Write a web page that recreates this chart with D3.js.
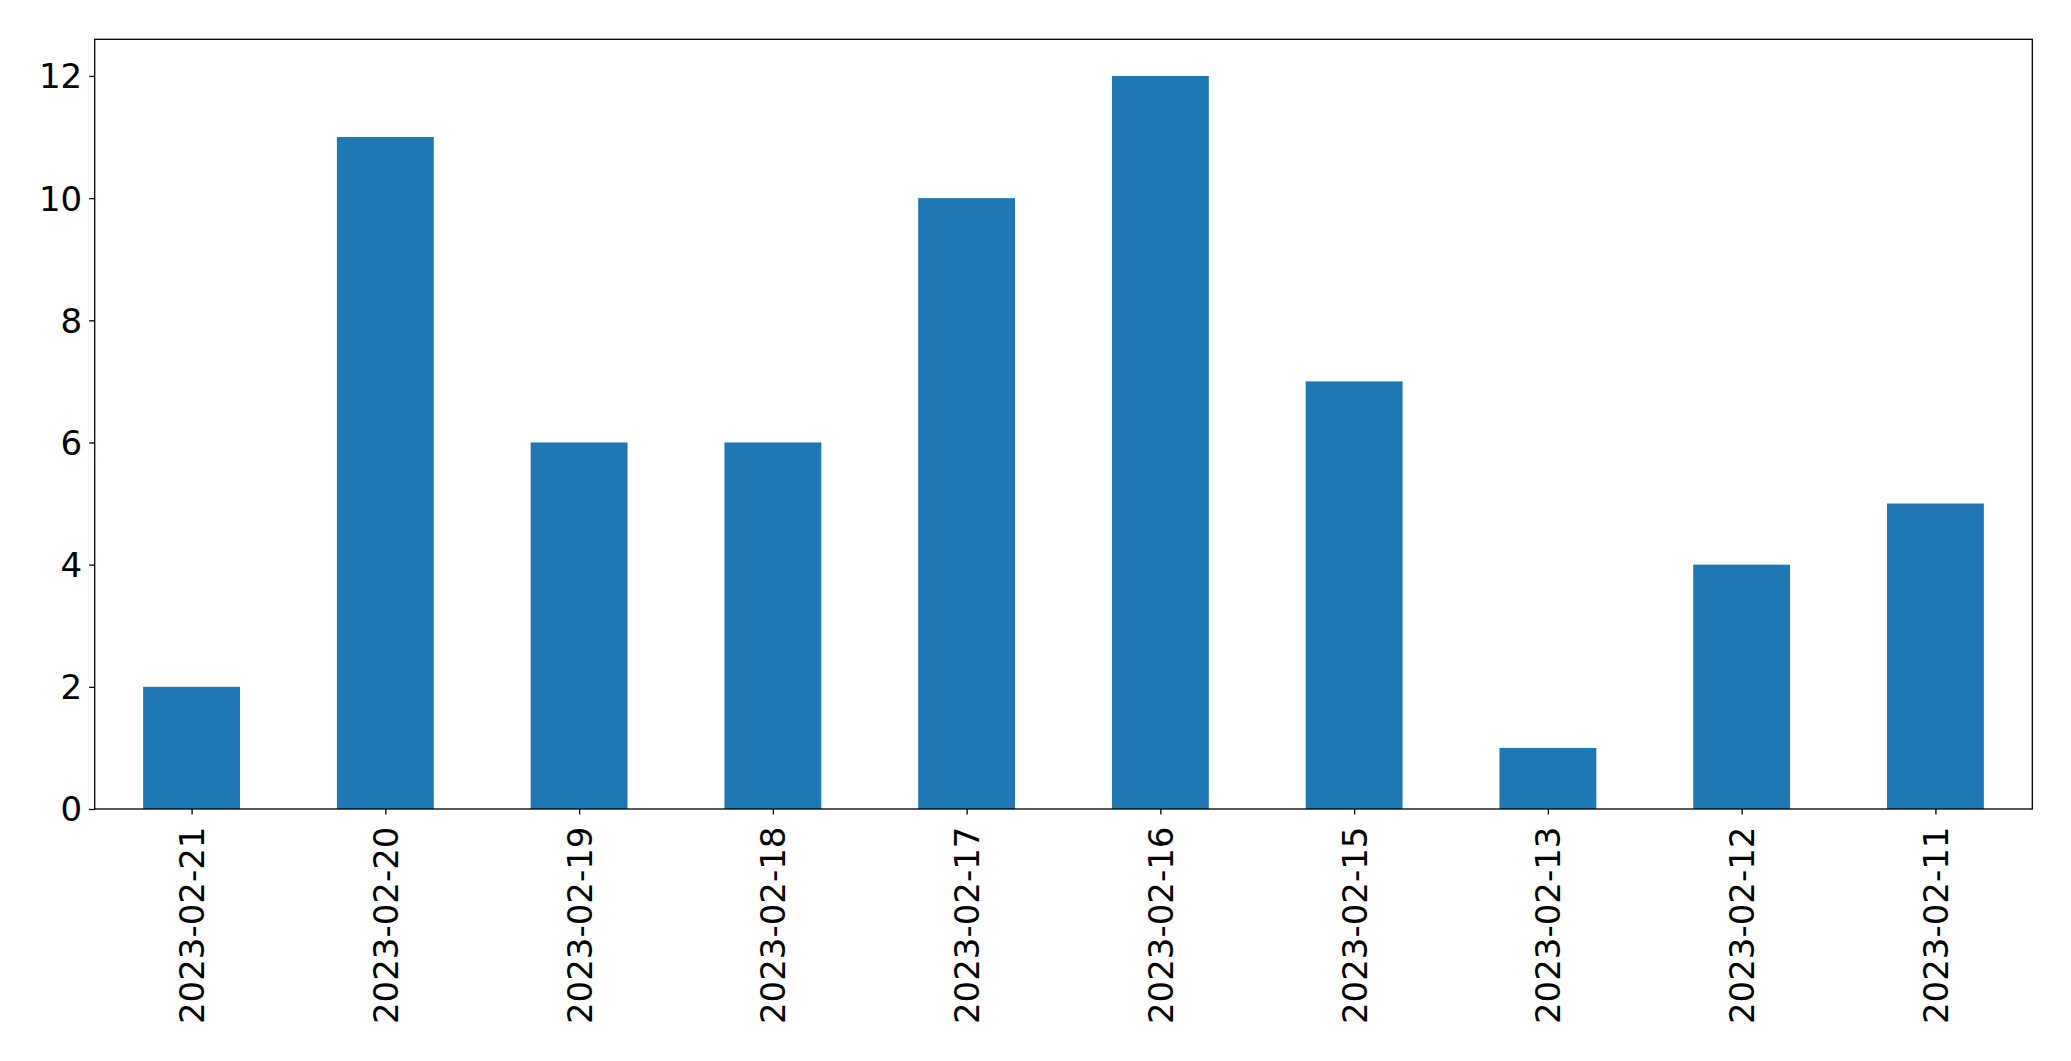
<!DOCTYPE html>
<html>
<head>
<meta charset="utf-8">
<script src="https://cdn.jsdelivr.net/npm/d3@7"></script>
<style>
  html, body { margin: 0; padding: 0; background: #fff; }
  svg { display: block; }
</style>
</head>
<body>
<script>
const categories = ["2023-02-21","2023-02-20","2023-02-19","2023-02-18","2023-02-17","2023-02-16","2023-02-15","2023-02-13","2023-02-12","2023-02-11"];
const values = [2, 11, 6, 6, 10, 12, 7, 1, 4, 5];
const yTicks = [0, 2, 4, 6, 8, 10, 12];

const W = 2071, H = 1061;
const margin = { left: 94.7, right: W - 2032.3, top: 39.3, bottom: H - 809 };
const iw = W - margin.left - margin.right;
const ih = H - margin.top - margin.bottom;
const fontFamily = "'DejaVu Sans', sans-serif";
const fontSize = 34;

const svg = d3.select("body").append("svg").attr("width", W).attr("height", H);
const g = svg.append("g").attr("transform", `translate(${margin.left},${margin.top})`);

const x = d3.scaleLinear().domain([-0.5, categories.length - 0.5]).range([0, iw]);
const y = d3.scaleLinear().domain([0, 12.6]).range([ih, 0]);
const barW = 0.5;

g.selectAll("rect.bar").data(values).enter().append("rect")
  .attr("class", "bar")
  .attr("x", (d, i) => x(i - barW / 2))
  .attr("width", (d, i) => x(i + barW / 2) - x(i - barW / 2))
  .attr("y", d => y(d))
  .attr("height", d => y(0) - y(d))
  .attr("fill", "#1f77b4");

// frame
g.append("rect").attr("x", 0).attr("y", 0).attr("width", iw).attr("height", ih)
  .attr("fill", "none").attr("stroke", "#000").attr("stroke-width", 1.3);

// y axis
const yAxis = d3.axisLeft(y).tickValues(yTicks).tickSize(5.5).tickPadding(7).tickFormat(d3.format("d"));
const ya = g.append("g").call(yAxis);
ya.select(".domain").remove();
ya.selectAll("line").attr("stroke", "#000").attr("stroke-width", 1.3);
ya.selectAll("text").attr("font-family", fontFamily).attr("font-size", fontSize).attr("fill", "#000")
  .attr("dy", "0.35em");

// x axis
const xAxis = d3.axisBottom(x).tickValues(d3.range(categories.length)).tickSize(5.5).tickFormat(i => categories[i]);
const xa = g.append("g").attr("transform", `translate(0,${ih})`).call(xAxis);
xa.select(".domain").remove();
xa.selectAll("line").attr("stroke", "#000").attr("stroke-width", 1.3);
xa.selectAll("text")
  .attr("font-family", fontFamily).attr("font-size", fontSize).attr("fill", "#000")
  .attr("text-anchor", "end")
  .attr("transform", "translate(0,17.5) rotate(-90)")
  .attr("x", 0).attr("y", 0).attr("dy", "0.35em");
</script>
</body>
</html>
